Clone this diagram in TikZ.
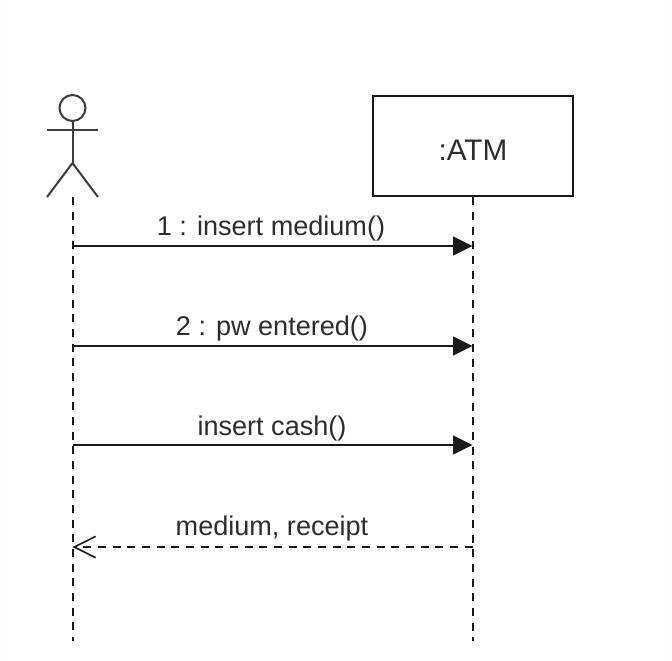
\documentclass[tikz,border=0pt]{standalone}
\usepackage{fontspec}
\setmainfont{Liberation Sans}
\usetikzlibrary{arrows.meta}
\definecolor{bgc}{RGB}{255,253,251}
\definecolor{ink}{RGB}{25,25,25}
\definecolor{txt}{RGB}{45,45,45}
\tikzset{
  x=0.75pt,y=-0.75pt,
  msg/.style={draw=ink,line width=1.7pt,-{Triangle[length=14.5pt,width=14pt]}},
  ret/.style={draw=ink,line width=1.3pt,dash pattern=on 6pt off 5pt,-{Straight Barb[length=16pt,width=16pt,line width=1.2pt]}},
  life/.style={draw=ink,line width=1.5pt,dash pattern=on 6pt off 5pt},
  actorline/.style={draw=ink!85,line width=1.5pt},
  lbl/.style={font=\fontsize{20.3}{24}\selectfont,text=txt,inner sep=0pt,anchor=center}
}
\begin{document}
\begin{tikzpicture}
\useasboundingbox (0,0) rectangle (672,661);
\fill[bgc] (0,0) rectangle (672,661);
\fill[white] (8,0) rectangle (664,661);
\node[draw=ink,line width=1.8pt,minimum width=150pt,minimum height=75pt,inner sep=0pt,text height=21pt,text depth=0pt,font=\fontsize{22.3}{26}\selectfont,text=txt] (atm) at (473,146) {:ATM};
\coordinate (aTop) at (72.5,197);
\coordinate (aBot) at (72.5,641);
\coordinate (bBot) at (472.5,641);
\draw[actorline] (72.5,108) circle[radius=13];
\draw[actorline] (72.5,121) -- (72.5,163);
\draw[actorline] (47,129.5) -- (98,129.5);
\draw[actorline] (47,197) -- (72.5,163) -- (98,197);
\draw[life] (aTop) -- (aBot);
\draw[life] (atm.south -| bBot) -- (bBot);
\coordinate (a1) at (72.5,246); \coordinate (b1) at (472.5,246);
\coordinate (a2) at (72.5,346); \coordinate (b2) at (472.5,346);
\coordinate (a3) at (72.5,445); \coordinate (b3) at (472.5,445);
\coordinate (a4) at (72.5,547); \coordinate (b4) at (472.5,547);
\draw[msg] (a1) -- (b1);
\draw[msg] (a2) -- (b2);
\draw[msg] (a3) -- (b3);
\draw[ret] (b4) -- (a4);
\node[lbl] (t1) at (271,228) {1 : insert medium()};
\node[lbl] (t2) at (272,328) {2 : pw entered()};
\node[lbl] (t3) at (272,428) {insert cash()};
\node[lbl] (t4) at (272,528) {medium, receipt};
\end{tikzpicture}
\end{document}
